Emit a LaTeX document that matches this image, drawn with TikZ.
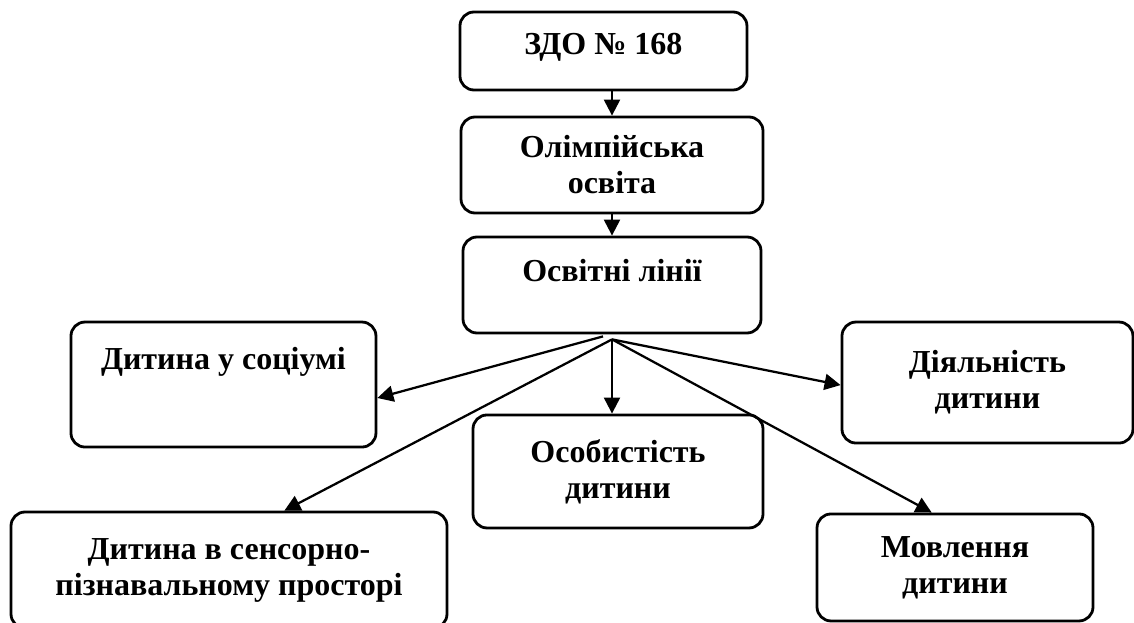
\documentclass[tikz,border=0pt]{standalone}
\usepackage{fontspec}
\setmainfont{Liberation Serif}
\usetikzlibrary{arrows.meta}
\tikzset{
  linebox/.style={draw, rectangle, rounded corners=10.5pt, line width=2.1pt, align=center, inner sep=2pt, font=\bfseries\fontsize{24}{27}\selectfont},
  linearrow/.style={line width=1.7pt, -{Triangle[length=12pt,width=12pt]}},
}
\begin{document}
\begin{tikzpicture}
    \useasboundingbox (0,0) rectangle (850.5pt,-467.25pt);
    \node[linebox, minimum width=215.25pt, minimum height=58.5pt, text height=15pt, text depth=9pt] (zdo) at (452.6pt,-38.25pt) {ЗДО № 168};
    \node[linebox, minimum width=226.5pt, minimum height=72pt] (olymp) at (459pt,-123.75pt) {Олімпійська\\освіта};
    \node[linebox, minimum width=223.5pt, minimum height=72pt, text height=15pt, text depth=19.5pt] (lines) at (459pt,-213.75pt) {Освітні лінії};
    \node[linebox, minimum width=228.75pt, minimum height=93.75pt, text height=15pt, text depth=38pt] (socium) at (167.6pt,-288.4pt) {Дитина у соціумі};
    \node[linebox, minimum width=327pt, minimum height=87pt] (sensor) at (171.75pt,-427.5pt) {Дитина в сенсорно-\\пізнавальному просторі};
    \node[linebox, minimum width=217.5pt, minimum height=84.75pt] (osob) at (463.5pt,-353.6pt) {Особистість\\дитини};
    \node[linebox, minimum width=218.25pt, minimum height=90.75pt] (diyal) at (740.6pt,-286.9pt) {Діяльність\\дитини};
    \node[linebox, minimum width=207pt, minimum height=80.25pt] (movl) at (716.25pt,-425.6pt) {Мовлення\\дитини};

    \coordinate (fan) at ([yshift=-3.75pt]lines.south);
    \coordinate (fanl) at ([shift={(-6.75pt,-1.5pt)}]lines.south);

    \draw[linearrow] (olymp.north |- zdo.south) -- (olymp.north);
    \draw[linearrow] (olymp.south) -- (lines.north);
    \draw[linearrow] (fanl) -- (socium.-5);
    \draw[linearrow] (fan) -- (sensor.47);
    \draw[linearrow] (fan) -- (fan |- osob.north);
    \draw[linearrow] (fan) -- (diyal.181);
    \draw[linearrow] (fan) -- (movl.113);
\end{tikzpicture}
\end{document}
